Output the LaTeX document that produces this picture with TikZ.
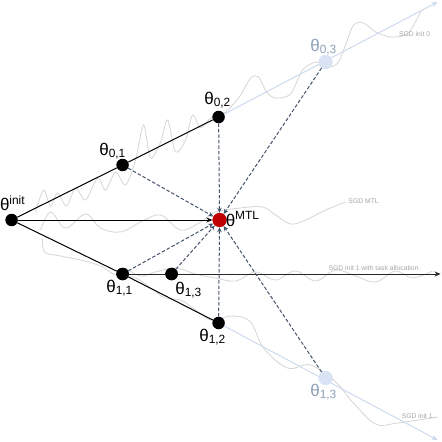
\documentclass[tikz,border=0pt]{standalone}
\usepackage{fontspec}
\setmainfont{Liberation Sans}
\usetikzlibrary{arrows.meta}
\definecolor{dashc}{HTML}{44546A}
\definecolor{lightb}{HTML}{C9D8EE}
\definecolor{lightn}{HTML}{DAE3F3}
\definecolor{lightt}{HTML}{8EA0B8}
\definecolor{mtlred}{HTML}{C00000}
\definecolor{sgdc}{HTML}{D6D6D6}
\begin{document}
\begin{tikzpicture}[x=1pt,y=-1pt,
  pt/.style={circle,fill=black,inner sep=0pt,minimum size=12.5pt},
  ptl/.style={circle,fill=lightn,inner sep=0pt,minimum size=14pt},
  ptr/.style={circle,fill=mtlred,inner sep=0pt,minimum size=14pt},
  lab/.style={font=\fontsize{17}{17}\selectfont,inner sep=0pt},
  sgd/.style={draw=sgdc,line width=0.8pt},
  sgdlab/.style={font=\fontsize{6.8}{7}\selectfont,text=black!35,inner sep=0pt},
  toMTL/.style={draw=dashc,dash pattern=on 3.5pt off 2pt,line width=1pt,-{Stealth[length=5pt,width=4.5pt]}},
  trail/.style={draw=lightb,line width=0.9pt,-{Stealth[length=6pt,width=5pt]}},
  path/.style={draw=black,line width=1pt}
]
\fill[white] (0,0) rectangle (440,442);
% SGD curves
\draw[sgd] plot[smooth,tension=0.5] coordinates {(35,212) (43,190) (50,206) (57,193) (66,206) (75,188) (85,200) (97,178) (105,190) (115,172) (125,185) (135,160) (143,125) (150,158) (160,142) (167,120) (175,152) (185,140) (192,115) (200,128) (210,118) (225,112) (240,95) (250,78) (258,77) (266,92) (275,98) (290,94) (302,70) (315,62) (322,64) (330,67) (338,62) (345,45) (353,25) (363,23) (375,32) (390,37) (405,35) (412,27) (421,10)};
\draw[sgd] plot[smooth,tension=0.6] coordinates {(40,230) (50,212) (65,228) (85,214) (100,228) (120,232) (140,222) (160,215) (180,230) (200,222) (215,212) (240,208) (262,207) (275,215) (290,224) (305,220) (325,210) (345,202)};
\draw[sgd] plot[smooth,tension=0.6] coordinates {(125,268) (140,276) (155,272) (175,268) (195,274) (215,278) (235,281) (255,272) (275,280) (295,271) (315,281) (335,270) (355,276) (375,282) (395,271) (412,278) (432,271)};
\draw[sgd] plot[smooth,tension=0.6] coordinates {(42,238) (44,252) (60,256) (80,260) (100,266) (115,275) (135,278) (150,288) (165,298) (180,300) (195,310) (210,320) (232,316) (250,322) (263,348) (287,368) (310,365) (335,382) (352,402) (375,424) (397,423) (437,417)};
\node[sgdlab] (l0) at (414,34) {SGD init 0};
\node[sgdlab] (lm) at (363,201) {SGD MTL};
\node[sgdlab] (lt) at (373,268.5) {SGD init 1 with task allocation};
\node[sgdlab,anchor=west] (l1) at (401,416) {SGD init 1.};
% nodes
\node[pt] (init) at (11,220) {};
\node[pt] (a1) at (122,165) {};
\node[pt] (a2) at (218,117) {};
\node[ptl] (a3) at (325,62) {};
\node[ptr] (mtl) at (219,220) {};
\node[pt] (b1) at (122,274) {};
\node[pt] (c3) at (171,274) {};
\node[pt] (b2) at (218,323) {};
\node[ptl] (b3) at (325,378) {};
\coordinate (e0) at (437,2);
\coordinate (e1) at (437,440);
\coordinate (et) at (440,274);
% trails
\draw[trail] (a2) -- (e0);
\draw[trail] (b2) -- (e1);
\node[ptl] at (a3) {};
\node[ptl] at (b3) {};
% black paths
\draw[path] (init) -- (a1) -- (a2);
\draw[path] (init) -- (b1) -- (b2);
\draw[path,-{Stealth[length=6pt,width=5pt]}] (init) -- (mtl);
\draw[draw=black!85,line width=1pt,-{Stealth[length=6pt,width=5pt]}] (b1) -- (et);
\node[pt] at (b1) {};
\node[pt] at (c3) {};
% dashed to MTL
\foreach \s in {a1,a2,a3,b1,c3,b2,b3} \draw[toMTL] (\s) -- (mtl);
\node[ptr] at (mtl) {};
% labels
\node[lab] (tinit) at (12,203) {θ\textsuperscript{init}};
\node[lab] (t01) at (112,151) {θ\textsubscript{0,1}};
\node[lab] (t02) at (217,100) {θ\textsubscript{0,2}};
\node[lab,text=lightt] (t03) at (323,47) {θ\textsubscript{0,3}};
\node[lab,anchor=west] (tm) at (225,219) {θ\textsuperscript{MTL}};
\node[lab] (t11) at (119,288) {θ\textsubscript{1,1}};
\node[lab] (t13) at (188,290) {θ\textsubscript{1,3}};
\node[lab] (t12) at (212,337) {θ\textsubscript{1,2}};
\node[lab,text=lightt] (t13b) at (323,392) {θ\textsubscript{1,3}};
\end{tikzpicture}
\end{document}
